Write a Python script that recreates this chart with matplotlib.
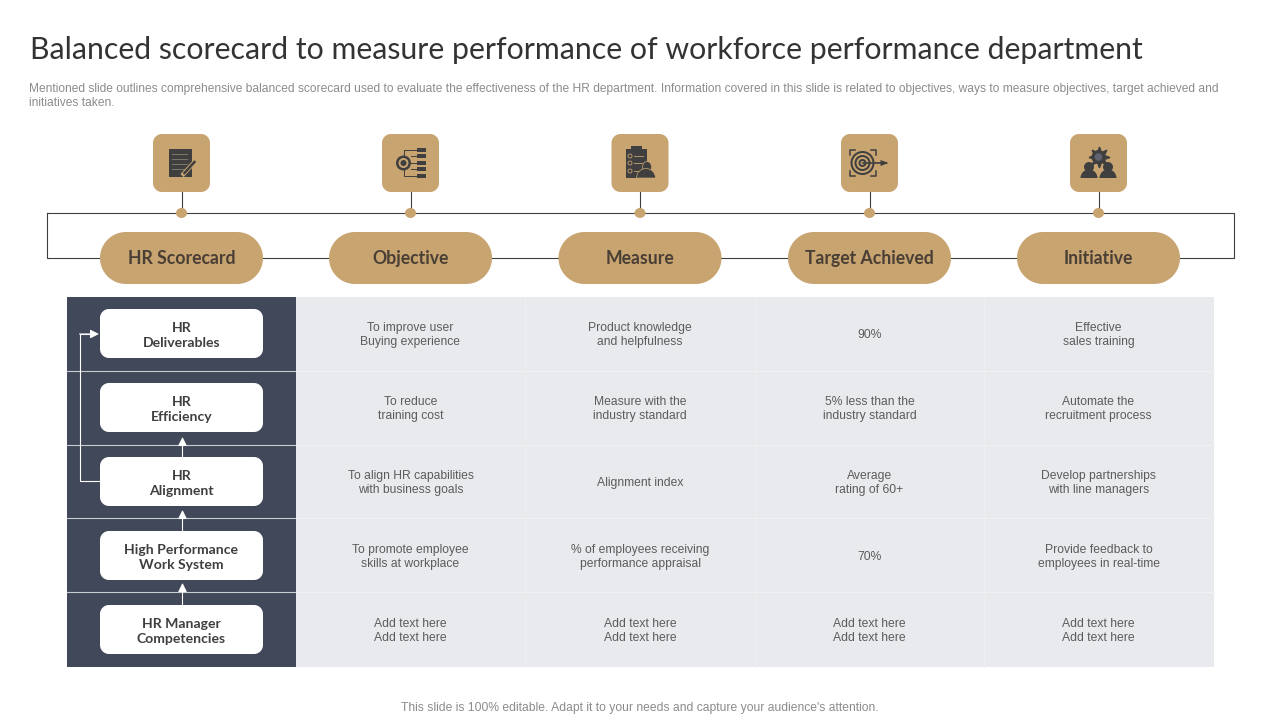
import numpy as np
import matplotlib
matplotlib.use("Agg")
import matplotlib.pyplot as plt
from matplotlib.patches import Rectangle, Circle, Ellipse, Wedge, Polygon

title = "Balanced scorecard to measure performance of workforce performance department"
subtitle = ["Mentioned slide outlines comprehensive balanced scorecard used to evaluate the effectiveness of the HR department. Information covered in this slide is related to objectives, ways to measure objectives, target achieved and",
            "initiatives taken."]
footer = "This slide is 100% editable. Adapt it to your needs and capture your audience's attention."

headers = ["HR Scorecard", "Objective", "Measure", "Target Achieved", "Initiative"]
row_labels = ["HR\nDeliverables", "HR\nEfficiency", "HR\nAlignment",
              "High Performance\nWork System", "HR Manager\nCompetencies"]
objective = ["To improve user\nBuying experience", "To reduce\ntraining cost",
             "To align HR capabilities\nwith business goals", "To promote employee\nskills at workplace",
             "Add text here\nAdd text here"]
measure = ["Product knowledge\nand helpfulness", "Measure with the\nindustry standard", "Alignment index",
           "% of employees receiving\nperformance appraisal", "Add text here\nAdd text here"]
target = ["90%", "5% less than the\nindustry standard", "Average\nrating of 60+", "70%",
          "Add text here\nAdd text here"]
initiative = ["Effective\nsales training", "Automate the\nrecruitment process",
              "Develop partnerships\nwith line managers", "Provide feedback to\nemployees in real-time",
              "Add text here\nAdd text here"]

TAN = "#c8a471"
NAVY = "#404859"
CELL = "#e9eaee"
DARK = "#3f3f3f"
BROWN = "#4a3f35"
HEAD_FONT = "Lato"
BODY_FONT = "Liberation Sans"

col_x = [181.5, 410.5, 640, 869.5, 1098.5]
row_y = [333.5, 407.5, 481.5, 555.5, 629.5]


def rrect(ax, x0, y0, x1, y1, r, color, z=3):
    # true circular corners, FancyBboxPatch comes out too square at this radius
    t = np.linspace(0, np.pi / 2, 24)
    xs = np.concatenate([x1 - r + r * np.sin(t), x1 - r + r * np.cos(t), x0 + r - r * np.sin(t), x0 + r - r * np.cos(t)])
    ys = np.concatenate([y0 + r - r * np.cos(t), y1 - r + r * np.sin(t), y1 - r + r * np.cos(t), y0 + r - r * np.sin(t)])
    ax.add_patch(Polygon(np.column_stack([xs, ys]), closed=True, fc=color, ec="none", zorder=z))


def icon_doc(ax, cx, cy):
    ax.add_patch(Rectangle((cx - 13, cy - 14), 23, 28, fc=DARK, ec="none", zorder=5))
    for dy in (-9, -4, 1, 6):
        ax.plot([cx - 10, cx + 5], [cy + dy, cy + dy], color="#8a8070", lw=0.6, zorder=6)
    ax.plot([cx + 2, cx + 13], [cy + 11, cy - 1], color=TAN, lw=3.2, zorder=6)
    ax.plot([cx + 3, cx + 13], [cy + 10, cy - 1], color=DARK, lw=1.8, zorder=7)


def icon_goal(ax, cx, cy):
    ax.add_patch(Circle((cx - 7, cy), 7.5, fc=DARK, ec="none", zorder=5))
    ax.add_patch(Circle((cx - 7, cy), 5, fc=TAN, ec="none", zorder=6))
    ax.add_patch(Circle((cx - 7, cy), 3, fc=DARK, ec="none", zorder=7))
    ax.plot([cx + 6, cx - 7, cx - 7], [cy - 13, cy - 13, cy - 7], color=DARK, lw=0.7, zorder=4)
    ax.plot([cx + 6, cx - 7, cx - 7], [cy + 13, cy + 13, cy + 7], color=DARK, lw=0.7, zorder=4)
    for dy in (-13, -7, 0, 6, 13):
        ax.add_patch(Rectangle((cx + 6, cy + dy - 2), 9, 4, fc=DARK, ec="none", zorder=5))
    for dy in (-7, 0, 6):
        ax.plot([cx, cx + 6], [cy + dy, cy + dy], color=DARK, lw=0.7, zorder=4)


def icon_clip(ax, cx, cy):
    ax.add_patch(Rectangle((cx - 14, cy - 14), 21, 29, fc=DARK, ec="none", zorder=5))
    ax.add_patch(Rectangle((cx - 9, cy - 17), 11, 4, fc=DARK, ec="none", zorder=5))
    for dy in (-7, 0, 8):
        ax.add_patch(Circle((cx - 10, cy + dy), 2, fc="none", ec=TAN, lw=0.6, zorder=6))
        ax.plot([cx - 6, cx + 3], [cy + dy, cy + dy], color=TAN, lw=0.6, zorder=6)
    ax.add_patch(Ellipse((cx + 7, cy + 4), 9, 11, fc=DARK, ec=TAN, lw=0.5, zorder=7))
    ax.add_patch(Wedge((cx + 6, cy + 15), 9.5, 180, 360, fc=DARK, ec=TAN, lw=0.5, zorder=7))


def icon_target(ax, cx, cy):
    for r, c in zip((12, 10, 8, 6, 4, 2), (DARK, TAN, DARK, TAN, DARK, TAN)):
        ax.add_patch(Circle((cx - 7, cy), r, fc=c, ec="none", zorder=5))
    ax.plot([cx - 7, cx + 16], [cy, cy], color=DARK, lw=1.2, zorder=7)
    ax.add_patch(Polygon([[cx + 11, cy - 3], [cx + 19, cy], [cx + 11, cy + 3]], fc=DARK, ec="none", zorder=7))
    for sx in (-1, 1):
        for sy in (-1, 1):
            x = cx - 7 + sx * 13
            y = cy + sy * 13
            ax.plot([x - sx * 5, x, x], [y, y, y - sy * 5], color=DARK, lw=1.1, zorder=5)


def icon_team(ax, cx, cy):
    ax.add_patch(Circle((cx, cy - 6), 7, fc=DARK, ec="none", zorder=5))
    ax.plot([cx], [cy - 6], marker=(8, 1), ms=15, color=DARK, zorder=5)
    ax.add_patch(Circle((cx, cy - 6), 3.8, fc="#5f6470", ec="none", zorder=6))
    for dx in (-9.5, 9.5):
        ax.add_patch(Circle((cx + dx, cy + 4), 5, fc=DARK, ec="none", zorder=6))
        ax.add_patch(Wedge((cx + dx, cy + 15), 8.5, 180, 360, fc=DARK, ec="none", zorder=6))


def arrow(ax, start, end):
    ax.annotate("", xy=end, xytext=start, zorder=4,
                arrowprops=dict(arrowstyle="-|>", color="white", lw=0.8, mutation_scale=13, shrinkA=0, shrinkB=0))


def main():
    fig = plt.figure(figsize=(12.8, 7.2), dpi=100)
    ax = fig.add_axes([0, 0, 1, 1])
    ax.set_xlim(0, 1280)
    ax.set_ylim(720, 0)
    ax.axis("off")

    ax.text(30, 50, title, fontsize=21.75, family=HEAD_FONT, color="#333333", va="center", ha="left")
    ax.text(29, 89, subtitle[0], fontsize=8.63, family=BODY_FONT, color="#8c8c8c", va="center")
    ax.text(29, 103, subtitle[1], fontsize=8.63, family=BODY_FONT, color="#8c8c8c", va="center")
    ax.text(640, 707.5, footer, fontsize=8.7, family=BODY_FONT, color="#8c8c8c", va="center", ha="center")

    # connector frame behind the pills
    ax.plot([46.5, 1234, 1234, 46.5, 46.5], [213, 213, 258, 258, 213], color=DARK, lw=0.8, zorder=1)

    icons = [icon_doc, icon_goal, icon_clip, icon_target, icon_team]
    for cx, name, icon in zip(col_x, headers, icons):
        ax.plot([cx, cx], [190, 213], color=DARK, lw=0.8, zorder=1)
        ax.add_patch(Ellipse((cx, 213), 11, 10, fc=TAN, ec="none", zorder=2))
        rrect(ax, cx - 28.5, 134, cx + 28.5, 192, 9, TAN)
        icon(ax, cx, 163)
        rrect(ax, cx - 81.5, 232, cx + 81.5, 284, 26, TAN)
        ax.text(cx, 258.5, name, fontsize=12.7, family=HEAD_FONT, weight="bold", color=BROWN, va="center", ha="center", zorder=5)

    # table
    ax.add_patch(Rectangle((67, 297), 229, 370, fc=NAVY, ec="none", zorder=1))
    ax.add_patch(Rectangle((296, 297), 918, 370, fc=CELL, ec="none", zorder=1))
    for y in (370.5, 444.5, 518, 592):
        ax.plot([67, 296], [y, y], color="#c9ccd3", lw=0.8, zorder=2)
        ax.plot([296, 1214], [y, y], color="#f1f1f4", lw=0.8, zorder=2)
    for x in (525, 755, 984):
        ax.plot([x, x], [297, 667], color="#eeeef1", lw=0.8, zorder=2)

    for label, cy in zip(row_labels, row_y):
        rrect(ax, 100, cy - 24.5, 263, cy + 24.5, 9, "white")
        ax.text(181.5, cy + 2, label, fontsize=10.1, family=HEAD_FONT, weight="bold", color=DARK,
                va="center", ha="center", linespacing=1.33, zorder=5)

    # arrows between the row boxes
    for y0, y1 in ((457, 437), (531, 510), (605, 583)):
        arrow(ax, (182.5, y0), (182.5, y1))
    ax.plot([100, 79.5, 79.5, 90], [481, 481, 334, 334], color="white", lw=0.8, zorder=4)
    arrow(ax, (79.5, 334), (99, 334))

    for cx, col in zip(col_x[1:], [objective, measure, target, initiative]):
        for cy, txt in zip(row_y, col):
            ax.text(cx, cy + 1.5, txt, fontsize=8.75, family=BODY_FONT, color="#5c5c5c",
                    va="center", ha="center", linespacing=1.17, zorder=5)

    fig.savefig("out.png", dpi=100, facecolor="white")


if __name__ == "__main__":
    main()
